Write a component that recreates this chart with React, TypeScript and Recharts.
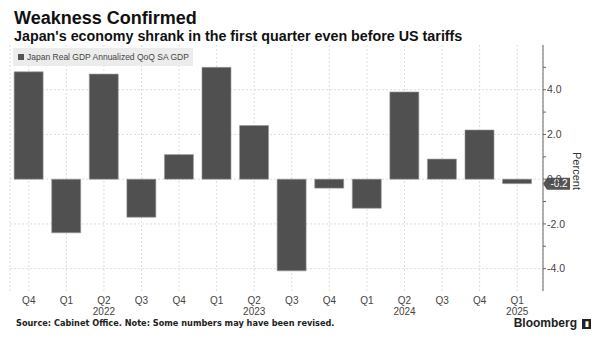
import {
  Bar,
  BarChart,
  CartesianGrid,
  Legend,
  ReferenceLine,
  XAxis,
  YAxis,
} from "recharts";

const quarters = ["Q4", "Q1", "Q2", "Q3", "Q4", "Q1", "Q2", "Q3", "Q4", "Q1", "Q2", "Q3", "Q4", "Q1"];
const years = ["", "", "2022", "", "", "", "2023", "", "", "", "2024", "", "", "2025"];
const gdp = [4.8, -2.4, 4.7, -1.7, 1.1, 5.0, 2.4, -4.1, -0.4, -1.3, 3.9, 0.9, 2.2, -0.2];
const yTicks = [-4, -3, -2, -1, 0, 1, 2, 3, 4, 5];

const data = quarters.map((q, i) => ({ idx: i, q, year: years[i], gdp: gdp[i] }));
const last = gdp[gdp.length - 1];

const QuarterTick = (props: any) => {
  const { x, y, payload } = props;
  const row = data[payload.value];
  return (
    <g>
      <text x={x} y={y} dy={5} textAnchor="middle" fontSize={10} fill="#444" fontFamily="Liberation Sans">
        {row.q}
      </text>
      {row.year && (
        <text x={x} y={y} dy={16} textAnchor="middle" fontSize={10} fill="#444" fontFamily="Liberation Sans">
          {row.year}
        </text>
      )}
    </g>
  );
};

const LastTag = (props: any) => {
  const { viewBox } = props;
  const x = viewBox.x + viewBox.width;
  const y = viewBox.y;
  return (
    <g>
      <path d={`M${x} ${y} L${x + 4} ${y - 6} H${x + 27} V${y + 6} H${x + 4} Z`} fill="#555" />
      <text x={x + 16} y={y} dy="0.35em" textAnchor="middle" fontSize={10} fill="#fff" fontFamily="Liberation Sans">
        {last.toFixed(1)}
      </text>
    </g>
  );
};

const PercentLabel = (props: any) => {
  const { viewBox } = props;
  const x = viewBox.x + 34;
  const y = viewBox.y + viewBox.height / 2 + 3;
  return (
    <text
      x={x}
      y={y}
      transform={`rotate(90 ${x} ${y})`}
      textAnchor="middle"
      dy="0.35em"
      fontSize={11}
      fill="#333"
      fontFamily="Liberation Sans"
    >
      Percent
    </text>
  );
};

const LegendBox = () => (
  <div
    style={{
      background: "#ececec",
      height: 18,
      display: "flex",
      alignItems: "center",
      padding: "0 4px 0 5px",
      fontFamily: "Liberation Sans",
      fontSize: 8.5,
      color: "#444",
      whiteSpace: "nowrap",
    }}
  >
    <span style={{ width: 6, height: 6, background: "#555", marginRight: 3, display: "inline-block" }} />
    Japan Real GDP Annualized QoQ SA GDP
  </div>
);

const App = () => {
  return (
    <div style={{ position: "absolute", left: 0, top: 0, width: 600, height: 343, background: "#fff" }}>
      <div
        style={{
          position: "absolute",
          left: 14,
          top: 8,
          fontFamily: "Liberation Sans",
          fontWeight: "bold",
          fontSize: 18,
          color: "#111",
        }}
      >
        Weakness Confirmed
      </div>
      <div
        style={{
          position: "absolute",
          left: 14,
          top: 28,
          fontFamily: "Liberation Sans",
          fontWeight: "bold",
          fontSize: 14.3,
          color: "#111",
        }}
      >
        Japan's economy shrank in the first quarter even before US tariffs
      </div>
      <BarChart
        width={600}
        height={343}
        data={data}
        margin={{ top: 45, right: 0, bottom: 22, left: 10 }}
        barCategoryGap="11%"
      >
        <CartesianGrid stroke="#ddd" strokeDasharray="2 2" horizontalValues={[-4, -2, 0, 2, 4]} />
        <XAxis
          dataKey="idx"
          type="category"
          height={30}
          axisLine={false}
          tickLine={false}
          interval={0}
          padding={{ left: 0, right: 7 }}
          tick={<QuarterTick />}
        />
        <YAxis
          orientation="right"
          width={57}
          domain={[-5, 6]}
          ticks={yTicks}
          interval={0}
          tickSize={3}
          tickMargin={1}
          axisLine={{ stroke: "#666" }}
          tickLine={{ stroke: "#666" }}
          tick={{ fontSize: 10.5, fill: "#444", fontFamily: "Liberation Sans" }}
          tickFormatter={(v: number) => (v % 2 === 0 ? v.toFixed(1) : "")}
          label={{ content: PercentLabel }}
        />
        <Legend
          layout="horizontal"
          verticalAlign="middle"
          align="center"
          content={<LegendBox />}
          wrapperStyle={{ position: "absolute", top: 48, left: 13, width: "auto" }}
        />
        <Bar dataKey="gdp" fill="#505050" stroke="#9a9a9a" strokeWidth={0.6} isAnimationActive={false} />
        <ReferenceLine y={last} stroke="none" ifOverflow="visible" label={<LastTag />} />
      </BarChart>
      <div
        style={{
          position: "absolute",
          left: 16,
          top: 318,
          fontFamily: "DejaVu Sans",
          fontWeight: "bold",
          fontSize: 8.2,
          color: "#222",
        }}
      >
        Source: Cabinet Office. Note: Some numbers may have been revised.
      </div>
      <div
        style={{
          position: "absolute",
          right: 9,
          top: 317,
          display: "flex",
          alignItems: "center",
          fontFamily: "Liberation Sans",
          fontWeight: "bold",
          fontSize: 12,
          lineHeight: "13px",
          color: "#222",
        }}
      >
        Bloomberg
        <span
          style={{
            marginLeft: 5,
            width: 9,
            height: 10,
            background: "#222",
            color: "#fff",
            fontSize: 7,
            lineHeight: "10px",
            textAlign: "center",
            display: "inline-block",
          }}
        >
          ▮
        </span>
      </div>
    </div>
  );
};

export default App;
